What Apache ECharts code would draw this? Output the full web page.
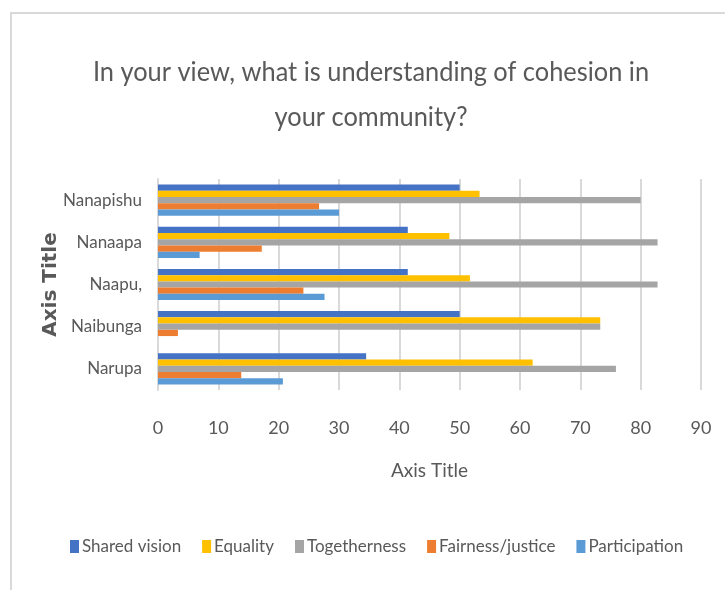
<!DOCTYPE html>
<html>
<head>
<meta charset="utf-8">
<script src="https://cdn.jsdelivr.net/npm/echarts@6/dist/echarts.min.js"></script>
<style>
  html, body { margin: 0; padding: 0; background: #fff; }
  #chart { width: 725px; height: 590px; }
</style>
</head>
<body>
<div id="chart"></div>
<script>
// Communities (bottom to top on the category axis)
const communities = ['Narupa', 'Naibunga', 'Naapu,', 'Nanaapa', 'Nanapishu'];

// Percentage of respondents per answer, one array per answer
const sharedVision = [34.5, 50.0, 41.4, 41.4, 50.0];
const equality     = [62.1, 73.3, 51.7, 48.3, 53.3];
const togetherness = [75.9, 73.3, 82.8, 82.8, 80.0];
const fairness     = [13.8, 3.3, 24.1, 17.2, 26.7];
const participation = [20.7, 0, 27.6, 6.9, 30.0];

const xTicks = [0, 10, 20, 30, 40, 50, 60, 70, 80, 90];

const FONT = 'Lato, "Open Sans", sans-serif';
const TEXT = '#595959';

const seriesDefs = [
  { name: 'Shared vision', data: sharedVision, color: '#4472C4' },
  { name: 'Equality', data: equality, color: '#FFC000' },
  { name: 'Togetherness', data: togetherness, color: '#A5A5A5' },
  { name: 'Fairness/justice', data: fairness, color: '#ED7D31' },
  { name: 'Participation', data: participation, color: '#5B9BD5' }
];

const chart = echarts.init(document.getElementById('chart'));
chart.setOption({
  animation: false,
  textStyle: { fontFamily: FONT },
  graphic: [
    {
      type: 'polyline',
      shape: { points: [[11, 600], [11, 13], [730, 13]] },
      style: { stroke: '#d9d9d9', lineWidth: 2, fill: null }
    },
    {
      type: 'text',
      x: 371, y: 50,
      scaleX: 0.94,
      style: {
        text: 'In your view, what is understanding of cohesion in\nyour community?',
        textAlign: 'center',
        fill: TEXT,
        font: '27px ' + FONT,
        lineHeight: 45
      }
    }
  ],
  legend: {
    data: seriesDefs.map(s => s.name),
    bottom: 30,
    left: 65,
    itemWidth: 9,
    itemHeight: 13,
    itemGap: 21,
    icon: 'rect',
    textStyle: { color: TEXT, fontSize: 17, fontFamily: FONT, padding: [0, 0, 0, -2] }
  },
  grid: { left: 158, right: 24, top: 179, bottom: 200 },
  xAxis: {
    type: 'value',
    min: xTicks[0],
    max: xTicks[xTicks.length - 1],
    interval: 10,
    name: 'Axis Title',
    nameLocation: 'middle',
    nameGap: 71,
    nameTextStyle: { color: TEXT, fontSize: 19, fontFamily: FONT },
    axisLabel: { color: TEXT, fontSize: 18, margin: 29 },
    axisLine: { show: false },
    axisTick: { show: false },
    splitLine: { lineStyle: { color: '#d9d9d9', width: 2 } }
  },
  yAxis: {
    type: 'category',
    data: communities,
    name: 'Axis Title',
    nameLocation: 'middle',
    nameGap: 97,
    nameMoveOverlap: false,
    nameRotate: 90,
    nameTextStyle: { color: TEXT, fontSize: 20, fontWeight: 'bold', fontFamily: '"DejaVu Sans", sans-serif' },
    axisLabel: { color: TEXT, fontSize: 17, margin: 16 },
    axisLine: { lineStyle: { color: '#d9d9d9', width: 2 } },
    axisTick: { show: false }
  },
  series: seriesDefs.map(s => ({
    name: s.name,
    type: 'bar',
    data: s.data,
    itemStyle: { color: s.color },
    barGap: 0,
    barCategoryGap: '26%'
  }))
});
</script>
</body>
</html>
